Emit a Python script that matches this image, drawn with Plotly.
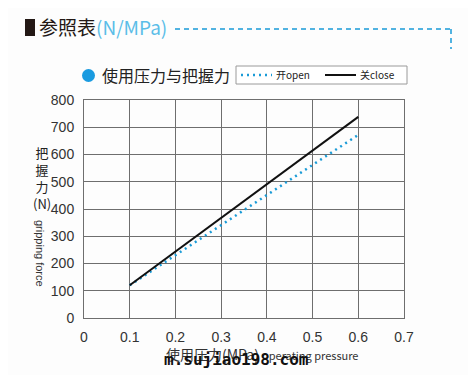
import plotly.graph_objects as go

pressure = [0.1, 0.2, 0.3, 0.4, 0.5, 0.6]
force_open = [120, 230, 340, 450, 561, 672]
force_close = [120, 244, 368, 492, 615, 738]
open_label = "开open"
close_label = "关close"
x_ticks = [0, 0.1, 0.2, 0.3, 0.4, 0.5, 0.6, 0.7]
x_tick_text = ["0", "0.1", "0.2", "0.3", "0.4", "0.5", "0.6", "0.7"]
y_ticks = [0, 100, 200, 300, 400, 500, 600, 700, 800]

OFF = 8  # page body margin in the browser
W, H = 476 - OFF, 375 - OFF
L, R, T, B = 84 - OFF, 72, 100 - OFF, 57
PW, PH = W - L - R, H - T - B

def px(x):
    return (x - OFF - L) / PW

def py(y):
    return (H - B - (y - OFF)) / PH

CJK = "Noto Sans CJK SC, Liberation Sans, sans-serif"
LAT = "Liberation Sans, Arial, sans-serif"
BLUE = "#1a9bd7"
LBLUE = "#5bbde8"
OPEN_LINE = dict(color=BLUE, width=2.5, dash="2px,4px")
CLOSE_LINE = dict(color="#111111", width=2)

fig = go.Figure()
fig.add_trace(go.Scatter(x=pressure, y=force_open, mode="lines", name=open_label, line=OPEN_LINE))
fig.add_trace(go.Scatter(x=pressure, y=force_close, mode="lines", name=close_label, line=CLOSE_LINE))

axis_common = dict(showgrid=True, gridcolor="#6e6e6e", gridwidth=1,
                   showline=True, linecolor="#6e6e6e", linewidth=1, mirror=True,
                   zeroline=False, ticks="", tickfont=dict(family=LAT, size=14, color="#333333"),
                   fixedrange=True, automargin=False)

fig.update_xaxes(range=[0, 0.7], tickvals=x_ticks, ticktext=x_tick_text, ticklabelstandoff=6, **axis_common)
fig.update_yaxes(range=[0, 800], tickvals=y_ticks, ticklabelstandoff=6, **axis_common)

def ann(x, y, text, size, family=CJK, color="#222222", xanchor="left", textangle=0):
    return dict(x=px(x), y=py(y), xref="paper", yref="paper", text=text, showarrow=False,
                xanchor=xanchor, yanchor="middle", textangle=textangle,
                font=dict(family=family, size=size, color=color))

annotations = [
    ann(37, 27, "参照表<span style='color:%s'>(N/MPa)</span>" % LBLUE, 19, color="#231815"),
    ann(100, 75, "使用压力与把握力", 16),
    ann(42, 178, "把<br>握<br>力<br>(N)", 13, xanchor="center"),
    ann(40, 253, "gripping force", 11, family=LAT, color="#333333", xanchor="center", textangle=90),
    ann(262, 354, "使用压力(MPa) <span style='font-size:11px'>operating pressure</span>", 14,
        color="#333333", xanchor="center"),
    ann(236, 359, "<b>m.sujiao198.com</b>", 16, family="DejaVu Sans Mono, monospace", color="#111111",
        xanchor="center"),
    ann(274, 75, open_label, 10),
    ann(358, 75, close_label, 10),
]

def pline(x0, y0, x1, y1, line):
    return dict(type="line", xref="paper", yref="paper", x0=px(x0), x1=px(x1), y0=py(y0), y1=py(y1), line=line)

shapes = [
    dict(type="rect", xref="paper", yref="paper", x0=px(25), x1=px(35), y0=py(19), y1=py(36),
         fillcolor="#231815", line=dict(width=0)),
    pline(175, 29, 451, 29, dict(color=BLUE, width=1.5, dash="5px,4px")),
    pline(451, 29, 451, 49, dict(color=BLUE, width=1.5, dash="5px,4px")),
    dict(type="circle", xref="paper", yref="paper", x0=px(82), x1=px(95), y0=py(69), y1=py(82),
         fillcolor="#1a9be0", line=dict(width=0)),
    dict(type="rect", xref="paper", yref="paper", x0=px(236), x1=px(407), y0=py(66), y1=py(84),
         fillcolor="#ffffff", line=dict(color="#9a9a9a", width=1)),
    pline(241, 75, 272, 75, OPEN_LINE),
    pline(325, 75, 356, 75, CLOSE_LINE),
]

fig.update_layout(
    width=W, height=H,
    margin=dict(l=L, r=R, t=T, b=B, autoexpand=False),
    paper_bgcolor="#fdfdfd", plot_bgcolor="#fdfdfd",
    showlegend=False,
    annotations=annotations,
    shapes=shapes,
)

fig.write_html("out.html")
